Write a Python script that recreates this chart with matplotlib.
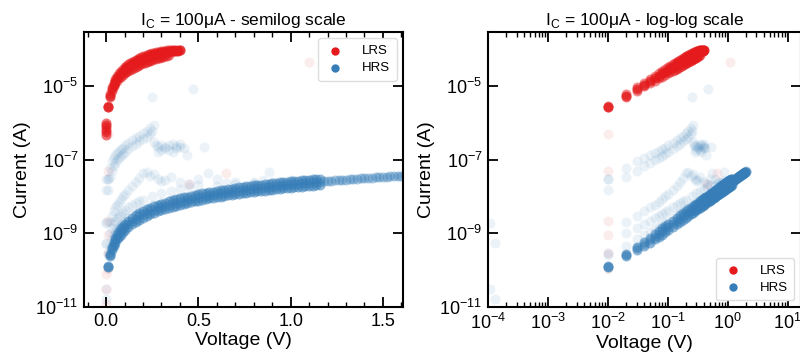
import matplotlib
matplotlib.use('Agg')
import matplotlib.pyplot as plt
from matplotlib.ticker import FixedLocator, MultipleLocator, NullLocator, LogLocator

plt.rcParams['font.family'] = ['Liberation Sans', 'DejaVu Sans']

red = '#e41a1c'
blue = '#377eb8'

# ---- LRS sweeps (set state), 10 mV steps ----
v_lrs = [0.01, 0.02, 0.03, 0.04, 0.05, 0.06, 0.07, 0.08, 0.09, 0.10,
         0.11, 0.12, 0.13, 0.14, 0.15, 0.16, 0.17, 0.18, 0.19, 0.20,
         0.21, 0.22, 0.23, 0.24, 0.25, 0.26, 0.27, 0.28, 0.29, 0.30,
         0.31, 0.32, 0.33, 0.34, 0.35, 0.36, 0.37, 0.38, 0.39, 0.40]
i_lrs_a = [2.7e-6, 5.4e-6, 8.1e-6, 1.08e-5, 1.35e-5, 1.62e-5, 1.89e-5, 2.16e-5, 2.43e-5, 2.7e-5,
           2.97e-5, 3.24e-5, 3.51e-5, 3.78e-5, 4.05e-5, 4.32e-5, 4.59e-5, 4.86e-5, 5.13e-5, 5.4e-5,
           5.65e-5, 5.9e-5, 6.15e-5, 6.4e-5, 6.65e-5, 6.9e-5, 7.1e-5, 7.3e-5, 7.5e-5, 7.7e-5,
           7.9e-5, 8.1e-5, 8.25e-5, 8.4e-5, 8.55e-5, 8.7e-5, 8.8e-5, 8.9e-5, 9.0e-5, 9.1e-5]
i_lrs_b = [2.6e-6, 5.1e-6, 7.4e-6, 9.6e-6, 1.17e-5, 1.38e-5, 1.58e-5, 1.78e-5, 1.97e-5, 2.16e-5,
           2.35e-5, 2.54e-5, 2.73e-5, 2.92e-5, 3.1e-5, 3.29e-5, 3.48e-5, 3.67e-5, 3.86e-5, 4.05e-5,
           4.24e-5, 4.43e-5, 4.62e-5, 4.81e-5, 5.0e-5, 5.2e-5, 5.4e-5, 5.6e-5, 5.8e-5, 6.0e-5,
           6.2e-5, 6.4e-5, 6.6e-5, 6.8e-5]
i_lrs_c = [2.8e-6, 5.8e-6, 9.0e-6, 1.22e-5, 1.55e-5, 1.88e-5, 2.2e-5, 2.52e-5, 2.84e-5, 3.16e-5,
           3.48e-5, 3.8e-5, 4.12e-5, 4.44e-5, 4.76e-5, 5.08e-5, 5.4e-5, 5.7e-5, 6.0e-5, 6.3e-5,
           6.6e-5, 6.85e-5, 7.1e-5, 7.35e-5, 7.6e-5, 7.85e-5, 8.1e-5, 8.3e-5, 8.5e-5, 8.7e-5,
           8.85e-5, 9.0e-5, 9.1e-5, 9.2e-5, 9.3e-5, 9.4e-5, 9.45e-5, 9.5e-5, 9.55e-5, 9.6e-5]
v_lrs_zero = [0.0, 0.0, 0.0, 0.0, 0.0, 0.0]
i_lrs_zero = [4.5e-7, 5.5e-7, 6.5e-7, 7.5e-7, 8.5e-7, 1.0e-6]
# stray LRS points
v_lrs_stray = [1.1, 0.65, 0.45, 0.01, 0.01, 0.01, 0.01, 0.01, 0.01, 0.0, 0.0, 0.0]
i_lrs_stray = [4.5e-5, 4.4e-8, 2.2e-8, 4.8e-7, 5e-8, 2.1e-9, 9e-10, 1.1e-10, 3e-10, 8e-11, 3e-11, 1.2e-11]

# ---- HRS sweeps (reset state) ----
v_hrs = [0.01, 0.02, 0.03, 0.04, 0.05, 0.06, 0.07, 0.08, 0.09, 0.10,
         0.12, 0.14, 0.16, 0.18, 0.20, 0.22, 0.24, 0.26, 0.28, 0.30,
         0.32, 0.34, 0.36, 0.38, 0.40, 0.42, 0.44, 0.46, 0.48, 0.50,
         0.52, 0.54, 0.56, 0.58, 0.60, 0.62, 0.64, 0.66, 0.68, 0.70,
         0.72, 0.74, 0.76, 0.78, 0.80, 0.82, 0.84, 0.86, 0.88, 0.90,
         0.92, 0.94, 0.96, 0.98, 1.00, 1.02, 1.04, 1.06, 1.08, 1.10,
         1.12, 1.14, 1.16, 1.18, 1.20, 1.22, 1.24, 1.26, 1.28, 1.30,
         1.32, 1.34, 1.36, 1.38, 1.40, 1.42, 1.44, 1.46, 1.48, 1.50,
         1.52, 1.54, 1.56, 1.58, 1.60, 1.62, 1.64, 1.66, 1.68, 1.70,
         1.72, 1.74, 1.76, 1.78, 1.80, 1.82, 1.84, 1.86, 1.88, 1.90,
         1.92, 1.94, 1.96, 1.98, 2.00]
i_hrs_a = [1.2e-10, 2.5e-10, 3.9e-10, 5.0e-10, 6.5e-10, 8.0e-10, 9.6e-10, 1.12e-9, 1.28e-9, 1.45e-9,
           1.79e-9, 2.14e-9, 2.50e-9, 2.87e-9, 3.24e-9, 3.62e-9, 4.00e-9, 4.39e-9, 4.79e-9, 5.19e-9,
           5.59e-9, 6.00e-9, 6.41e-9, 6.82e-9, 7.24e-9, 7.66e-9, 8.09e-9, 8.52e-9, 8.95e-9, 9.38e-9,
           9.82e-9, 1.03e-8, 1.07e-8, 1.11e-8, 1.16e-8, 1.20e-8, 1.25e-8, 1.29e-8, 1.34e-8, 1.39e-8,
           1.43e-8, 1.48e-8, 1.52e-8, 1.57e-8, 1.62e-8, 1.66e-8, 1.71e-8, 1.76e-8, 1.81e-8, 1.85e-8,
           1.90e-8, 1.95e-8, 2.00e-8, 2.05e-8, 2.10e-8, 2.15e-8, 2.20e-8, 2.25e-8, 2.30e-8, 2.35e-8,
           2.40e-8, 2.45e-8, 2.50e-8, 2.55e-8, 2.60e-8, 2.65e-8, 2.70e-8, 2.75e-8, 2.80e-8, 2.86e-8,
           2.91e-8, 2.96e-8, 3.01e-8, 3.06e-8, 3.12e-8, 3.17e-8, 3.22e-8, 3.27e-8, 3.33e-8, 3.38e-8,
           3.43e-8, 3.48e-8, 3.54e-8, 3.59e-8, 3.64e-8, 3.70e-8, 3.75e-8, 3.80e-8, 3.86e-8, 3.91e-8,
           3.96e-8, 4.02e-8, 4.07e-8, 4.13e-8, 4.18e-8, 4.23e-8, 4.29e-8, 4.34e-8, 4.40e-8, 4.45e-8,
           4.51e-8, 4.56e-8, 4.62e-8, 4.67e-8, 4.73e-8]
i_hrs_b = [1.2e-10, 2.4e-10, 3.6e-10, 4.6e-10, 5.6e-10, 6.8e-10, 8.0e-10, 9.2e-10, 1.05e-9, 1.19e-9,
           1.47e-9, 1.75e-9, 2.05e-9, 2.35e-9, 2.66e-9, 2.97e-9, 3.28e-9, 3.60e-9, 3.93e-9, 4.26e-9,
           4.58e-9, 4.92e-9, 5.26e-9, 5.59e-9, 5.94e-9, 6.28e-9, 6.63e-9, 6.99e-9, 7.34e-9, 7.69e-9,
           8.05e-9, 8.45e-9, 8.77e-9, 9.10e-9, 9.51e-9, 9.84e-9, 1.025e-8, 1.058e-8, 1.099e-8, 1.14e-8,
           1.173e-8, 1.214e-8, 1.246e-8, 1.287e-8, 1.328e-8, 1.361e-8, 1.402e-8, 1.443e-8, 1.484e-8, 1.517e-8,
           1.558e-8, 1.599e-8, 1.64e-8, 1.681e-8, 1.722e-8, 1.763e-8, 1.804e-8, 1.845e-8, 1.886e-8, 1.927e-8,
           1.968e-8, 2.009e-8, 2.05e-8]
i_hrs_c = [1.3e-10, 2.7e-10, 4.3e-10, 5.8e-10, 7.6e-10, 9.5e-10, 1.15e-9, 1.36e-9, 1.57e-9, 1.77e-9,
           2.18e-9, 2.61e-9, 3.05e-9, 3.50e-9, 3.95e-9, 4.42e-9, 4.88e-9, 5.36e-9, 5.84e-9, 6.33e-9,
           6.82e-9, 7.32e-9, 7.82e-9, 8.32e-9, 8.83e-9, 9.35e-9, 9.87e-9, 1.039e-8, 1.092e-8, 1.144e-8,
           1.198e-8, 1.257e-8, 1.305e-8, 1.354e-8, 1.415e-8, 1.464e-8, 1.525e-8, 1.574e-8, 1.635e-8, 1.696e-8,
           1.745e-8, 1.806e-8, 1.854e-8, 1.915e-8, 1.976e-8, 2.025e-8, 2.086e-8, 2.147e-8, 2.208e-8, 2.257e-8,
           2.318e-8, 2.379e-8, 2.44e-8, 2.501e-8, 2.562e-8, 2.623e-8, 2.684e-8, 2.745e-8, 2.806e-8, 2.867e-8,
           2.928e-8, 2.989e-8, 3.05e-8]

# faint HRS cycles that behaved differently
v_ramp_a = [0.01, 0.02, 0.03, 0.04, 0.05, 0.06, 0.07, 0.08, 0.09, 0.10, 0.12, 0.14, 0.16, 0.18,
            0.20, 0.22, 0.24, 0.26, 0.27, 0.28, 0.30, 0.32, 0.34, 0.36, 0.38, 0.40, 0.42, 0.44, 0.53]
i_ramp_a = [3e-8, 6e-8, 9e-8, 1.1e-7, 1.3e-7, 1.5e-7, 1.65e-7, 1.9e-7, 2.1e-7, 2.4e-7, 2.8e-7, 3.3e-7,
            3.8e-7, 4.4e-7, 5.2e-7, 6.0e-7, 7.0e-7, 8.5e-7, 2.5e-7, 2.2e-7, 2.4e-7, 2.2e-7, 2.5e-7,
            2.7e-7, 2.3e-7, 2.6e-7, 2.0e-7, 1.3e-7, 2.2e-7]
v_ramp_b = [0.02, 0.03, 0.04, 0.05, 0.06, 0.07, 0.08, 0.09, 0.10, 0.12, 0.14, 0.16, 0.18, 0.20,
            0.22, 0.24, 0.25, 0.26, 0.28, 0.30, 0.32, 0.34, 0.36, 0.38, 0.40]
i_ramp_b = [3.3e-8, 5e-8, 6.5e-8, 8e-8, 9.5e-8, 1.1e-7, 1.25e-7, 1.4e-7, 1.6e-7, 1.9e-7, 2.3e-7,
            2.7e-7, 3.1e-7, 3.6e-7, 4.2e-7, 5.0e-7, 6.0e-7, 3.0e-7, 1.6e-7, 1.8e-7, 2.0e-7, 1.8e-7,
            1.6e-7, 2.0e-7, 2.2e-7]
v_mid_c = [0.02, 0.03, 0.04, 0.05, 0.06, 0.07, 0.08, 0.09, 0.10, 0.12, 0.14, 0.16, 0.18, 0.20,
           0.22, 0.24, 0.26, 0.28, 0.30, 0.32, 0.35, 0.40, 0.45, 0.50, 0.55, 0.60, 0.65, 0.70,
           0.80, 0.85, 0.88, 0.95, 1.05, 1.10]
i_mid_c = [2.0e-9, 3.0e-9, 4.0e-9, 5.0e-9, 6.0e-9, 7.2e-9, 8.5e-9, 1.0e-8, 1.15e-8, 1.5e-8, 1.9e-8,
           2.5e-8, 3.2e-8, 4.2e-8, 4.5e-8, 3.5e-8, 4.0e-8, 3.0e-8, 2.6e-8, 2.8e-8, 3.3e-8, 2.4e-8,
           2.2e-8, 3.0e-8, 4.2e-8, 3.0e-8, 2.3e-8, 2.5e-8, 2.4e-8, 2.8e-8, 4.5e-8, 2.2e-8, 2.3e-8, 2.8e-8]
v_mid_d = [0.02, 0.03, 0.04, 0.05, 0.06, 0.07, 0.08, 0.09, 0.10, 0.12, 0.14, 0.16, 0.18, 0.20,
           0.25, 0.30, 0.35, 0.40, 0.45, 0.50, 0.60, 0.70, 0.80, 0.90, 1.00]
i_mid_d = [1.0e-9, 1.4e-9, 1.8e-9, 2.2e-9, 2.6e-9, 3.0e-9, 3.4e-9, 3.8e-9, 4.3e-9, 5.0e-9, 5.8e-9,
           6.6e-9, 7.4e-9, 8.2e-9, 1.0e-8, 1.2e-8, 1.4e-8, 1.6e-8, 1.8e-8, 2.0e-8, 1.9e-8, 2.1e-8,
           2.3e-8, 2.5e-8, 2.7e-8]
v_mid_e = [0.02, 0.03, 0.04, 0.05, 0.06, 0.07, 0.08, 0.09, 0.10, 0.12, 0.14, 0.16, 0.18, 0.20,
           0.25, 0.30, 0.35, 0.40, 0.50, 0.60, 0.70, 0.80]
i_mid_e = [4.5e-10, 7.0e-10, 9.0e-10, 1.1e-9, 1.3e-9, 1.5e-9, 1.7e-9, 1.9e-9, 2.1e-9, 2.6e-9, 3.1e-9,
           3.6e-9, 4.1e-9, 4.6e-9, 5.8e-9, 7.0e-9, 8.0e-9, 9.0e-9, 1.1e-8, 1.3e-8, 1.5e-8, 1.7e-8]
v_hrs_stray = [0.25, 0.47, 0.0, 0.0, 0.0, 0.0, 0.01, 0.01, 0.01, 0.01, 1.1e-4, 1.3e-4, 1.1e-4, 1.3e-4]
i_hrs_stray = [5e-6, 8e-6, 1.5e-8, 3e-8, 2e-9, 5e-10, 3e-8, 1.5e-8, 3e-10, 2.5e-10, 1.9e-9, 5.5e-10, 3e-11, 1.6e-11]

size = 52


def draw(ax):
    # LRS
    ax.scatter(v_lrs_stray, i_lrs_stray, s=size, color=red, alpha=0.08, linewidths=0)
    ax.scatter(v_lrs, i_lrs_a, s=size, color=red, alpha=0.7, linewidths=0)
    ax.scatter(v_lrs[:34], i_lrs_b, s=size, color=red, alpha=0.5, linewidths=0)
    ax.scatter(v_lrs, i_lrs_c, s=size, color=red, alpha=0.5, linewidths=0)
    ax.scatter(v_lrs_zero, i_lrs_zero, s=size, color=red, alpha=0.6, linewidths=0)
    # HRS faint cycles
    for vv, ii in ((v_ramp_a, i_ramp_a), (v_ramp_b, i_ramp_b), (v_mid_c, i_mid_c),
                   (v_mid_d, i_mid_d), (v_mid_e, i_mid_e), (v_hrs_stray, i_hrs_stray)):
        ax.scatter(vv, ii, s=size, color=blue, alpha=0.09, linewidths=0)
    # HRS main cycles
    ax.scatter(v_hrs, i_hrs_a, s=size, color=blue, alpha=0.4, linewidths=0)
    ax.scatter(v_hrs[:63], i_hrs_b, s=size, color=blue, alpha=0.55, linewidths=0)
    ax.scatter(v_hrs[:63], i_hrs_c, s=size, color=blue, alpha=0.55, linewidths=0)

    ax.set_yscale('log')
    ax.set_ylim(1e-11, 2.9e-4)
    ax.yaxis.set_major_locator(FixedLocator([1e-11, 1e-9, 1e-7, 1e-5]))
    ax.yaxis.set_minor_locator(NullLocator())
    ax.set_xlabel('Voltage (V)', fontsize=14, labelpad=2)
    ax.set_ylabel('Current (A)', fontsize=14, labelpad=3)
    ax.tick_params(which='both', direction='in', top=True, right=True, labelsize=13)
    ax.tick_params(which='major', length=7, width=1.3, pad=4)
    ax.tick_params(which='minor', length=3.5, width=1.0)
    for sp in ax.spines.values():
        sp.set_linewidth(1.5)
    # legend handles
    h1 = ax.scatter([], [], s=36, color=red, linewidths=0, label='LRS')
    h2 = ax.scatter([], [], s=36, color=blue, linewidths=0, label='HRS')
    return [h1, h2]


leg_kw = dict(fontsize=9.5, handlelength=1.6, handletextpad=1.2, borderpad=0.5,
              labelspacing=0.35, framealpha=1, edgecolor='#dddddd', fancybox=True)

fig = plt.figure(figsize=(8, 3.62), dpi=100)
ax1 = fig.add_axes([0.105, 0.152, 0.399, 0.760])
ax2 = fig.add_axes([0.61, 0.152, 0.391, 0.760])

hs = draw(ax1)
ax1.set_xlim(-0.12, 1.61)
ax1.xaxis.set_major_locator(MultipleLocator(0.5))
ax1.xaxis.set_minor_locator(MultipleLocator(0.1))
ax1.set_title(r'I$_\mathregular{C}$ = 100μA - semilog scale', fontsize=12.5, pad=5)
ax1.legend(handles=hs, loc='upper right', **leg_kw)

hs = draw(ax2)
ax2.set_xscale('log')
ax2.set_xlim(1e-4, 16.5)
ax2.xaxis.set_major_locator(LogLocator(base=10, numticks=10))
ax2.xaxis.set_minor_locator(LogLocator(base=10, subs=range(2, 10), numticks=10))
ax2.set_title(r'I$_\mathregular{C}$ = 100μA - log-log scale', fontsize=12.5, pad=5)
ax2.legend(handles=hs, loc='lower right', **leg_kw)

fig.savefig('out.png', dpi=100)
